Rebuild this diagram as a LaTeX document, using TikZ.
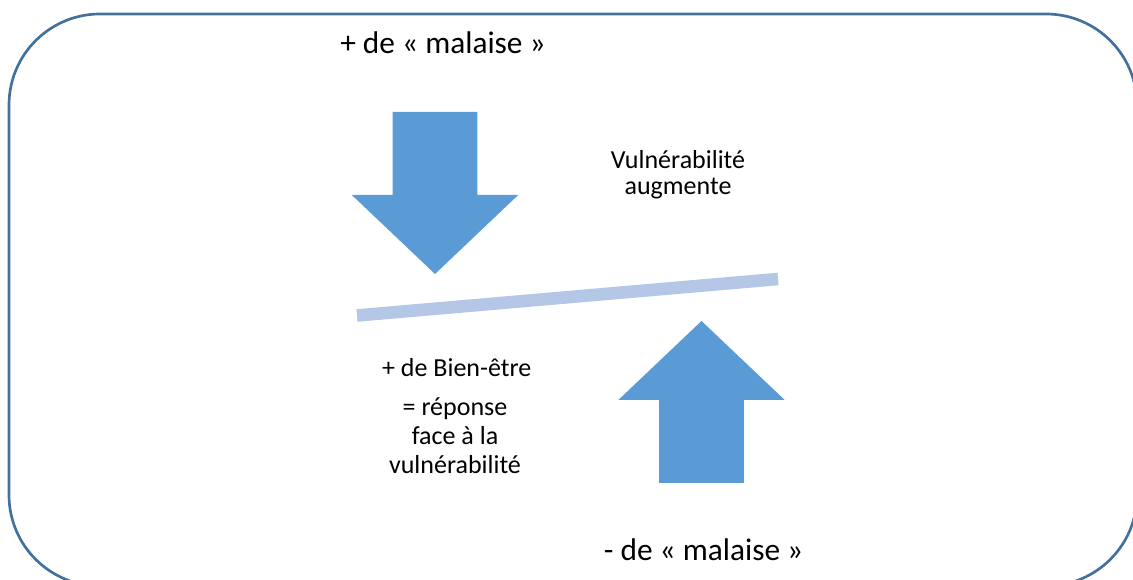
\documentclass[tikz,border=0pt]{standalone}
\usepackage{fontspec}
\setmainfont{Carlito}
\definecolor{cadre}{HTML}{41719C}
\definecolor{fleche}{HTML}{5B9BD5}
\definecolor{balance}{HTML}{B4C7E7}
\begin{document}
\begin{tikzpicture}[every node/.style={inner sep=0pt, text=black}]

% Styles pour les textes et les flèches
\tikzset{
    grandtexte/.style={
        font=\fontsize{22.3}{26.8}\selectfont,
        anchor=base
    },
    petittexte/.style={
        font=\fontsize{18.5}{18.5}\selectfont,
        align=center,
        anchor=base
    },
    grossefleche/.style={
        fill=fleche,
        draw=none
    }
}

% =============================================
% CADRE ARRONDI
% =============================================
\useasboundingbox (0,0) rectangle (28.325,14.5);
\draw[cadre, line width=1.9pt, rounded corners=2.275cm] (0.225,-0.15) rectangle (28.425,14.15);

% =============================================
% FLÈCHE DU HAUT : + de malaise
% =============================================
\node[grandtexte] (malaiseplus) at (11.075,13.15) {+ de « malaise »};

\begin{scope}[shift={(10.875,7.65)}]
    \fill[grossefleche] (0,0) -- (-2.08,1.975) -- (-1.06,1.975) -- (-1.06,4.05)
        -- (1.06,4.05) -- (1.06,1.975) -- (2.08,1.975) -- cycle;
\end{scope}

% (ancre "base" = ligne de base de la dernière ligne)
\node[petittexte] (vulnerabilite) at (16.95,9.625) {Vulnérabilité\\augmente};

% Fléau de la balance (incliné)
\draw[balance, line width=0.315cm] (8.925,6.6125) -- (19.45,7.525);

% =============================================
% FLÈCHE DU BAS : - de malaise
% =============================================
\begin{scope}[shift={(17.5375,6.475)}, rotate=180]
    \fill[grossefleche] (0,0) -- (-2.08,1.975) -- (-1.06,1.975) -- (-1.06,4.05)
        -- (1.06,4.05) -- (1.06,1.975) -- (2.08,1.975) -- cycle;
\end{scope}

\node[petittexte] (bienetre) at (11.4175,5.0825) {+ de Bien-être};
\node[petittexte, font=\fontsize{18.5}{20.4}\selectfont] (reponse) at (11.375,2.6675)
    {= réponse\\face à la\\vulnérabilité};

\node[grandtexte] (malaisemoins) at (17.59,0.475) {- de « malaise »};

\end{tikzpicture}
\end{document}
